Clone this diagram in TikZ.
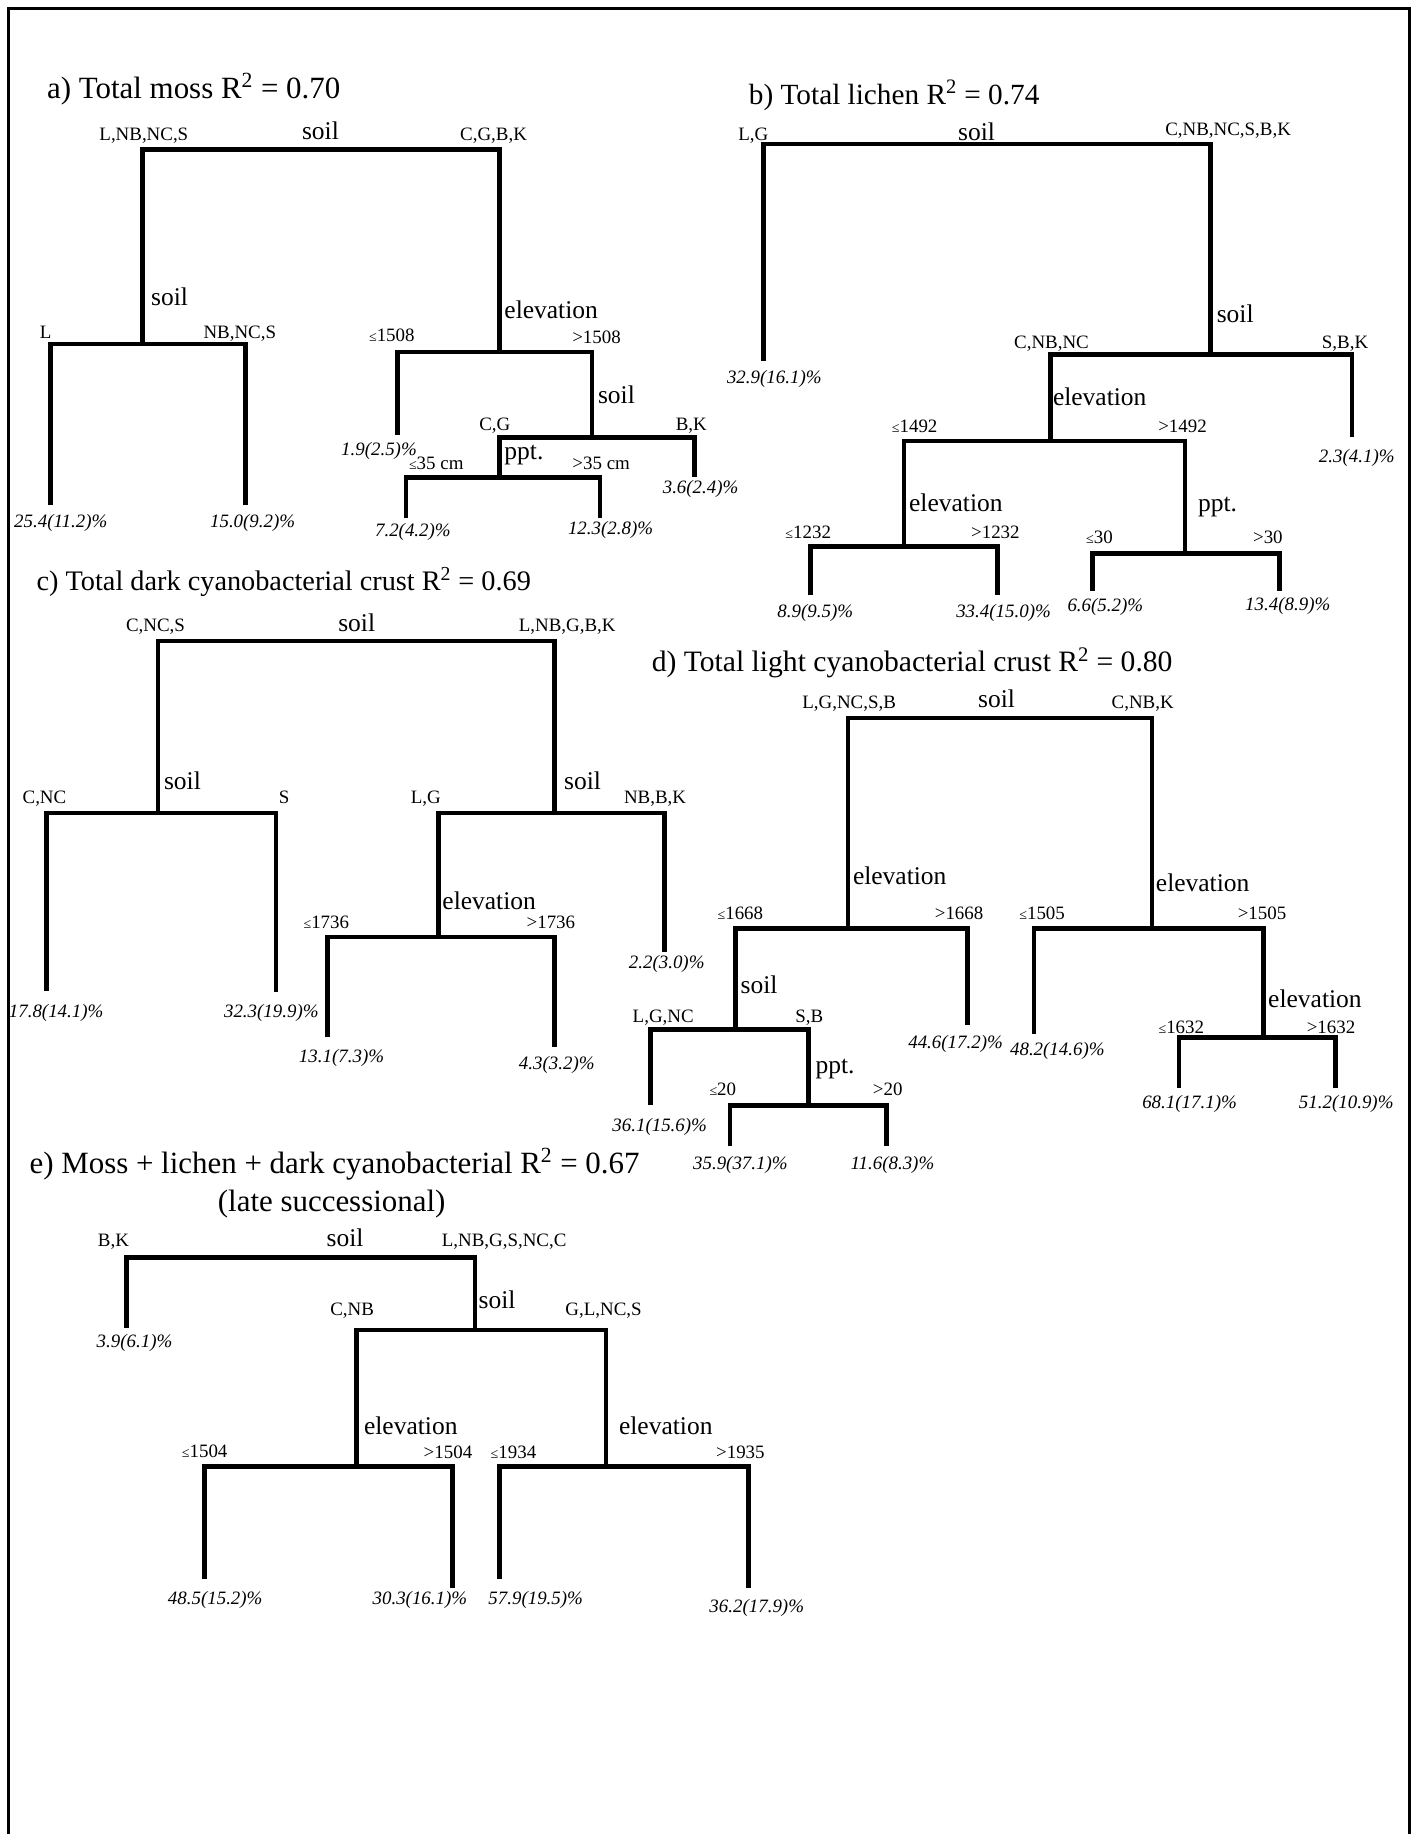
\documentclass[tikz,border=0pt]{standalone}
\usepackage{fontspec}
\setmainfont{Liberation Serif}
\newcommand{\lesign}{{\fontsize{8.5}{8}\selectfont ≤}}

\begin{document}
\begin{tikzpicture}[x=0.025cm,y=-0.025cm,
  bar/.style={line width=2.8pt,line join=miter},
  frm/.style={line width=1.6pt},
  ttl/.style={anchor=base west,inner sep=0pt,font=\fontsize{18}{22}\selectfont},
  var/.style={anchor=base west,inner sep=0pt,font=\fontsize{15.5}{18}\selectfont},
  topvar/.style={var,anchor=base},
  grp/.style={anchor=base,inner sep=0pt,font=\fontsize{11.5}{13}\selectfont},
  leaf/.style={anchor=base,inner sep=0pt,font=\fontsize{11.5}{13}\selectfont\itshape}]
  \useasboundingbox (0,0) rectangle (1211,1568);
  % frame, open at the bottom
  \coordinate (fbl) at (7,1568); \coordinate (ftl) at (7,7);
  \coordinate (ftr) at (1205,7); \coordinate (fbr) at (1205,1568);
  \draw[frm] (fbl)--(ftl)--(ftr)--(fbr);

  % a) total moss
  \node[ttl,font=\fontsize{18.8}{22}\selectfont] (a-ttl) at (40,84) {a) Total moss R\textsuperscript{2} = 0.70};
  \coordinate (aL) at (122,128);     \coordinate (aL-e) at (122,294);
  \coordinate (aR) at (427,128);     \coordinate (aR-e) at (427,301);
  \coordinate (aLL) at (43,294);     \coordinate (aLL-e) at (43,432);
  \coordinate (aLR) at (210,294);    \coordinate (aLR-e) at (210,432);
  \coordinate (aRL) at (340,301);    \coordinate (aRL-e) at (340,372);
  \coordinate (aRR) at (506,301);    \coordinate (aRR-e) at (506,374);
  \coordinate (aRRL) at (427,374);   \coordinate (aRRL-e) at (427,408);
  \coordinate (aRRR) at (594,374);   \coordinate (aRRR-e) at (594,408);
  \coordinate (aRRLL) at (347,408);  \coordinate (aRRLL-e) at (347,443);
  \coordinate (aRRLR) at (513,408);  \coordinate (aRRLR-e) at (513,443);
  \foreach \l/\r in {aL/aR,aLL/aLR,aRL/aRR,aRRL/aRRR,aRRLL/aRRLR}
    \draw[bar] (\l-e)--(\l)--(\r)--(\r-e);
  \node[grp] (a-g1) at (123,120) {L,NB,NC,S};
  \node[topvar] (a-v1) at (274,119) {soil};
  \node[grp] (a-g2) at (422,120) {C,G,B,K};
  \node[var] (a-v2) at (129,261) {soil};
  \node[grp] (a-g3) at (39,289) {L};
  \node[grp] (a-g4) at (205,289) {NB,NC,S};
  \node[leaf] (a-l1) at (52,451) {25.4(11.2)\%};
  \node[leaf] (a-l2) at (216,451) {15.0(9.2)\%};
  \node[var] (a-v3) at (431,272) {elevation};
  \node[grp] (a-c1) at (335,292) {\lesign1508};
  \node[grp] (a-c2) at (510,294) {>1508};
  \node[leaf] (a-l3) at (324,389) {1.9(2.5)\%};
  \node[var] (a-v4) at (511,345) {soil};
  \node[grp] (a-g5) at (423,368) {C,G};
  \node[grp] (a-g6) at (591,368) {B,K};
  \node[leaf] (a-l4) at (599,422) {3.6(2.4)\%};
  \node[var] (a-v5) at (431,393) {ppt.};
  \node[grp] (a-c3) at (373,401) {\lesign35 cm};
  \node[grp] (a-c4) at (514,401) {>35 cm};
  \node[leaf] (a-l5) at (353,459) {7.2(4.2)\%};
  \node[leaf] (a-l6) at (522,457) {12.3(2.8)\%};

  % b) total lichen
  \node[ttl,font=\fontsize{17.8}{22}\selectfont] (b-ttl) at (640,89) {b) Total lichen R\textsuperscript{2} = 0.74};
  \coordinate (bL) at (653,123);     \coordinate (bL-e) at (653,309);
  \coordinate (bR) at (1035,123);    \coordinate (bR-e) at (1035,303);
  \coordinate (bRL) at (898,303);    \coordinate (bRL-e) at (898,377);
  \coordinate (bRR) at (1156,303);   \coordinate (bRR-e) at (1156,374);
  \coordinate (bRLL) at (773,377);   \coordinate (bRLL-e) at (773,467);
  \coordinate (bRLR) at (1013,377);  \coordinate (bRLR-e) at (1013,473);
  \coordinate (bRLLL) at (693,467);  \coordinate (bRLLL-e) at (693,509);
  \coordinate (bRLLR) at (853,467);  \coordinate (bRLLR-e) at (853,509);
  \coordinate (bRLRL) at (934,473);  \coordinate (bRLRL-e) at (934,505);
  \coordinate (bRLRR) at (1094,473); \coordinate (bRLRR-e) at (1094,505);
  \foreach \l/\r in {bL/bR,bRL/bRR,bRLL/bRLR,bRLLL/bRLLR,bRLRL/bRLRR}
    \draw[bar] (\l-e)--(\l)--(\r)--(\r-e);
  \node[grp] (b-g1) at (644,120) {L,G};
  \node[topvar] (b-v1) at (835,120) {soil};
  \node[grp] (b-g2) at (1050,116) {C,NB,NC,S,B,K};
  \node[leaf] (b-l1) at (662,328) {32.9(16.1)\%};
  \node[var] (b-v2) at (1040,276) {soil};
  \node[grp] (b-g3) at (899,298) {C,NB,NC};
  \node[grp] (b-g4) at (1150,298) {S,B,K};
  \node[leaf] (b-l2) at (1160,395) {2.3(4.1)\%};
  \node[var] (b-v3) at (900,347) {elevation};
  \node[grp] (b-c1) at (782,370) {\lesign1492};
  \node[grp] (b-c2) at (1011,370) {>1492};
  \node[var] (b-v4) at (777,437) {elevation};
  \node[grp] (b-c3) at (691,460) {\lesign1232};
  \node[grp] (b-c4) at (851,460) {>1232};
  \node[var] (b-v5) at (1024,437) {ppt.};
  \node[grp] (b-c5) at (940,465) {\lesign30};
  \node[grp] (b-c6) at (1084,465) {>30};
  \node[leaf] (b-l3) at (697,528) {8.9(9.5)\%};
  \node[leaf] (b-l4) at (858,528) {33.4(15.0)\%};
  \node[leaf] (b-l5) at (945,523) {6.6(5.2)\%};
  \node[leaf] (b-l6) at (1101,522) {13.4(8.9)\%};

  % c) total dark cyanobacterial crust
  \node[ttl,font=\fontsize{17.2}{22}\selectfont] (c-ttl) at (31,505) {c) Total dark cyanobacterial crust R\textsuperscript{2} = 0.69};
  \coordinate (cL) at (135,548);     \coordinate (cL-e) at (135,695);
  \coordinate (cR) at (474,548);     \coordinate (cR-e) at (474,695);
  \coordinate (cLL) at (40,695);     \coordinate (cLL-e) at (40,847);
  \coordinate (cLR) at (236,695);    \coordinate (cLR-e) at (236,848);
  \coordinate (cRL) at (375,695);    \coordinate (cRL-e) at (375,801);
  \coordinate (cRR) at (568,695);    \coordinate (cRR-e) at (568,814);
  \coordinate (cRLL) at (280,801);   \coordinate (cRLL-e) at (280,887);
  \coordinate (cRLR) at (474,801);   \coordinate (cRLR-e) at (474,895);
  \foreach \l/\r in {cL/cR,cLL/cLR,cRL/cRR,cRLL/cRLR}
    \draw[bar] (\l-e)--(\l)--(\r)--(\r-e);
  \node[grp] (c-g1) at (133,540) {C,NC,S};
  \node[topvar] (c-v1) at (305,540) {soil};
  \node[grp] (c-g2) at (485,540) {L,NB,G,B,K};
  \node[var] (c-v2) at (140,675) {soil};
  \node[grp] (c-g3) at (38,687) {C,NC};
  \node[grp] (c-g4) at (243,687) {S};
  \node[var] (c-v3) at (482,675) {soil};
  \node[grp] (c-g5) at (364,687) {L,G};
  \node[grp] (c-g6) at (560,687) {NB,B,K};
  \node[leaf] (c-l1) at (48,870) {17.8(14.1)\%};
  \node[leaf] (c-l2) at (232,870) {32.3(19.9)\%};
  \node[leaf] (c-l3) at (570,828) {2.2(3.0)\%};
  \node[var] (c-v4) at (378,778) {elevation};
  \node[grp] (c-c1) at (279,794) {\lesign1736};
  \node[grp] (c-c2) at (471,794) {>1736};
  \node[leaf] (c-l4) at (292,908) {13.1(7.3)\%};
  \node[leaf] (c-l5) at (476,914) {4.3(3.2)\%};

  % d) total light cyanobacterial crust
  \node[ttl] (d-ttl) at (557,574) {d) Total light cyanobacterial crust R\textsuperscript{2} = 0.80};
  \coordinate (dL) at (725,614);     \coordinate (dL-e) at (725,794);
  \coordinate (dR) at (985,614);     \coordinate (dR-e) at (985,794);
  \coordinate (dLL) at (629,794);    \coordinate (dLL-e) at (629,880);
  \coordinate (dLR) at (827,794);    \coordinate (dLR-e) at (827,876);
  \coordinate (dRL) at (884,794);    \coordinate (dRL-e) at (884,884);
  \coordinate (dRR) at (1080,794);   \coordinate (dRR-e) at (1080,887);
  \coordinate (dLLL) at (556,880);   \coordinate (dLLL-e) at (556,945);
  \coordinate (dLLR) at (691,880);   \coordinate (dLLR-e) at (691,945);
  \coordinate (dLLRL) at (624,945);  \coordinate (dLLRL-e) at (624,980);
  \coordinate (dLLRR) at (758,945);  \coordinate (dLLRR-e) at (758,980);
  \coordinate (dRRL) at (1008,887);  \coordinate (dRRL-e) at (1008,930);
  \coordinate (dRRR) at (1142,887);  \coordinate (dRRR-e) at (1142,930);
  \foreach \l/\r in {dL/dR,dLL/dLR,dRL/dRR,dLLL/dLLR,dLLRL/dLLRR,dRRL/dRRR}
    \draw[bar] (\l-e)--(\l)--(\r)--(\r-e);
  \node[grp] (d-g1) at (726,606) {L,G,NC,S,B};
  \node[topvar] (d-v1) at (852,605) {soil};
  \node[grp] (d-g2) at (977,606) {C,NB,K};
  \node[var] (d-v2) at (729,756) {elevation};
  \node[grp] (d-c1) at (633,786) {\lesign1668};
  \node[grp] (d-c2) at (820,786) {>1668};
  \node[var] (d-v3) at (988,762) {elevation};
  \node[grp] (d-c3) at (891,786) {\lesign1505};
  \node[grp] (d-c4) at (1079,786) {>1505};
  \node[var] (d-v4) at (633,849) {soil};
  \node[grp] (d-g3) at (567,874) {L,G,NC};
  \node[grp] (d-g4) at (692,874) {S,B};
  \node[leaf] (d-l1) at (817,896) {44.6(17.2)\%};
  \node[leaf] (d-l2) at (904,902) {48.2(14.6)\%};
  \node[var] (d-v5) at (697,918) {ppt.};
  \node[grp] (d-c5) at (618,937) {\lesign20};
  \node[grp] (d-c6) at (759,937) {>20};
  \node[leaf] (d-l3) at (564,967) {36.1(15.6)\%};
  \node[leaf] (d-l4) at (633,1000) {35.9(37.1)\%};
  \node[leaf] (d-l5) at (763,1000) {11.6(8.3)\%};
  \node[var] (d-v6) at (1084,861) {elevation};
  \node[grp] (d-c7) at (1010,884) {\lesign1632};
  \node[grp] (d-c8) at (1138,884) {>1632};
  \node[leaf] (d-l6) at (1017,948) {68.1(17.1)\%};
  \node[leaf] (d-l7) at (1151,948) {51.2(10.9)\%};

  % e) moss + lichen + dark cyanobacterial
  \node[ttl,font=\fontsize{18.8}{22}\selectfont] (e-ttl) at (25,1003) {e) Moss + lichen + dark cyanobacterial R\textsuperscript{2} = 0.67};
  \node[ttl,font=\fontsize{18.8}{22}\selectfont] (e-ttl2) at (186,1036) {(late successional)};
  \coordinate (eL) at (108,1075);    \coordinate (eL-e) at (108,1135);
  \coordinate (eR) at (406,1075);    \coordinate (eR-e) at (406,1137);
  \coordinate (eRL) at (305,1137);   \coordinate (eRL-e) at (305,1254);
  \coordinate (eRR) at (518,1137);   \coordinate (eRR-e) at (518,1254);
  \coordinate (eRLL) at (175,1254);  \coordinate (eRLL-e) at (175,1350);
  \coordinate (eRLR) at (387,1254);  \coordinate (eRLR-e) at (387,1358);
  \coordinate (eRRL) at (427,1254);  \coordinate (eRRL-e) at (427,1350);
  \coordinate (eRRR) at (640,1254);  \coordinate (eRRR-e) at (640,1358);
  \foreach \l/\r in {eL/eR,eRL/eRR,eRLL/eRLR,eRRL/eRRR}
    \draw[bar] (\l-e)--(\l)--(\r)--(\r-e);
  \node[grp] (e-g1) at (97,1066) {B,K};
  \node[topvar] (e-v1) at (295,1066) {soil};
  \node[grp] (e-g2) at (431,1066) {L,NB,G,S,NC,C};
  \node[leaf] (e-l1) at (115,1152) {3.9(6.1)\%};
  \node[var] (e-v2) at (409,1119) {soil};
  \node[grp] (e-g3) at (301,1125) {C,NB};
  \node[grp] (e-g4) at (516,1125) {G,L,NC,S};
  \node[var] (e-v3) at (311,1226) {elevation};
  \node[grp] (e-c1) at (175,1246) {\lesign1504};
  \node[grp] (e-c2) at (383,1247) {>1504};
  \node[var] (e-v4) at (529,1226) {elevation};
  \node[grp] (e-c3) at (439,1247) {\lesign1934};
  \node[grp] (e-c4) at (633,1247) {>1935};
  \node[leaf] (e-l2) at (184,1372) {48.5(15.2)\%};
  \node[leaf] (e-l3) at (359,1372) {30.3(16.1)\%};
  \node[leaf] (e-l4) at (458,1372) {57.9(19.5)\%};
  \node[leaf] (e-l5) at (647,1379) {36.2(17.9)\%};
\end{tikzpicture}
\end{document}
